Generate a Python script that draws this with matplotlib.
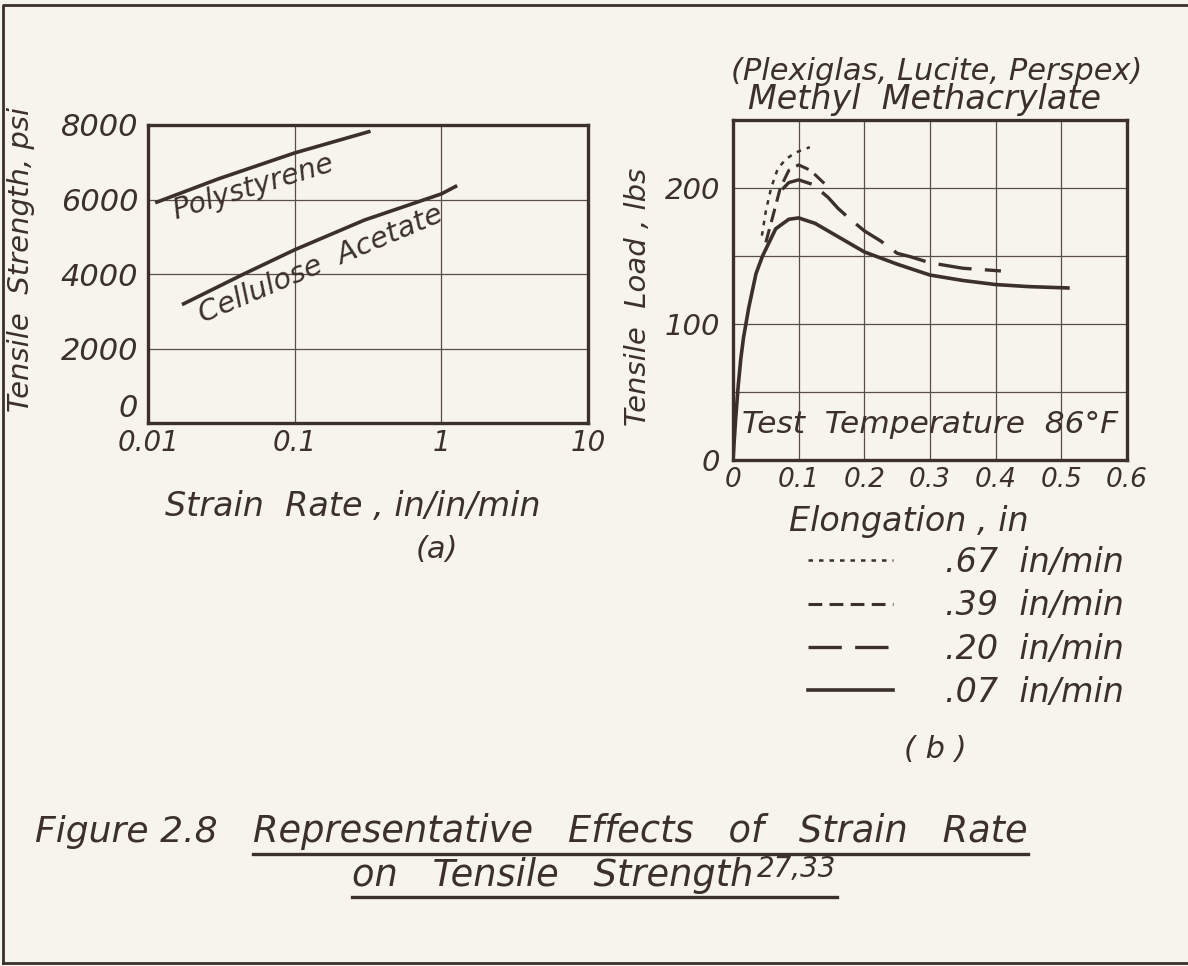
import matplotlib
matplotlib.use("Agg")
import matplotlib.pyplot as plt
from matplotlib.lines import Line2D

# (a) tensile strength vs strain rate
poly_rate = [0.0115, 0.03, 0.1, 0.32]
poly_psi = [5930, 6550, 7250, 7820]
acet_rate = [0.0175, 0.045, 0.1, 0.3, 1.0, 1.25]
acet_psi = [3200, 4000, 4650, 5450, 6150, 6350]

# (b) load vs elongation, methyl methacrylate
el_07 = [0, 0.004, 0.008, 0.012, 0.016, 0.024, 0.035, 0.045, 0.065, 0.085, 0.1,
         0.125, 0.15, 0.2, 0.25, 0.3, 0.35, 0.4, 0.45, 0.51]
load_07 = [0, 30, 55, 75, 90, 112, 137, 150, 170, 177, 178,
           174, 167, 153, 144, 136, 132, 129, 127.5, 126.5]
el_20 = [0.075, 0.085, 0.1, 0.122, 0.145, 0.16, 0.175, 0.2, 0.225, 0.25, 0.27, 0.3, 0.35, 0.408]
load_20 = [199, 204, 206, 202.5, 193, 185, 178.5, 168.5, 161, 152, 149.5, 145, 141, 139]
el_39 = [0.05, 0.06, 0.072, 0.085, 0.1, 0.118, 0.142]
load_39 = [160, 178, 200, 213, 217, 213, 202]
el_67 = [0.044, 0.05, 0.058, 0.068, 0.08, 0.092, 0.1, 0.117]
load_67 = [165, 183, 200, 214, 221, 225, 227, 230]

rate_labels = [".67  in/min", ".39  in/min", ".20  in/min", ".07  in/min"]

ink = "#3b302c"
paper = "#f7f4ec"
W, H = 1188, 966

plt.rcParams['font.family'] = ['DejaVu Sans']
plt.rcParams['font.style'] = 'oblique'
plt.rcParams['text.color'] = ink
plt.rcParams['axes.edgecolor'] = ink
plt.rcParams['xtick.color'] = ink
plt.rcParams['ytick.color'] = ink
plt.rcParams['axes.labelcolor'] = ink

fig = plt.figure(figsize=(W / 100, H / 100), dpi=100, facecolor=paper)


def box(l, t, r, b):
    return [l / W, 1 - b / H, (r - l) / W, (b - t) / H]


def style(ax):
    ax.set_facecolor(paper)
    for s in ax.spines.values():
        s.set_linewidth(2.4)
    ax.grid(True, color="#5a4e49", lw=0.9)
    ax.set_axisbelow(True)
    ax.tick_params(length=0, labelsize=20)


# ---- (a)
ax1 = fig.add_axes(box(148, 125, 588, 423))
style(ax1)
ax1.set_xscale("log")
ax1.set_xlim(0.01, 10)
ax1.set_ylim(0, 8000)
ax1.set_xticks([0.01, 0.1, 1, 10], ["0.01", "0.1", "1", "10"])
ax1.minorticks_off()
ax1.set_yticks([0, 2000, 4000, 6000, 8000], ["0", "2000", "4000", "6000", "8000"])
ax1.tick_params(axis="y", pad=7, labelsize=22)
ax1.tick_params(axis="x", pad=4)
ax1.get_yticklabels()[0].set_va("bottom")
ax1.plot(poly_rate, poly_psi, color=ink, lw=2.6)
ax1.plot(acet_rate, acet_psi, color=ink, lw=2.6)
ax1.text(0.052, 6320, "Polystyrene", rotation=17, rotation_mode="anchor",
         ha="center", va="center", fontsize=20.5)
ax1.text(0.15, 4250, "Cellulose  Acetate", rotation=23, rotation_mode="anchor",
         ha="center", va="center", fontsize=21)
ax1.set_ylabel("Tensile  Strength, psi", fontsize=21)
ax1.yaxis.set_label_coords(-0.257, 0.55)
ax1.set_xlabel("Strain  Rate , in/in/min", fontsize=24)
ax1.xaxis.set_label_coords(0.466, -0.225)
fig.text(437 / W, 1 - 550 / H, "(a)", ha="center", va="center", fontsize=22)

# ---- (b)
ax2 = fig.add_axes(box(733, 120, 1127, 460))
style(ax2)
ax2.set_xlim(0, 0.6)
ax2.set_ylim(0, 250)
ax2.set_xticks([0, 0.1, 0.2, 0.3, 0.4, 0.5, 0.6],
               ["0", "0.1", "0.2", "0.3", "0.4", "0.5", "0.6"])
ax2.set_yticks([0, 50, 100, 150, 200, 250], ["0", "", "100", "", "200", ""])
ax2.tick_params(axis="y", pad=9, labelsize=21)
ax2.tick_params(axis="x", pad=5, labelsize=19)
ax2.plot(el_67, load_67, color=ink, lw=1.8, ls=(0, (1.8, 2.4)), label=rate_labels[0])
ax2.plot(el_39, load_39, color=ink, lw=2.2, ls=(0, (4.5, 2.4)), label=rate_labels[1])
ax2.plot(el_20, load_20, color=ink, lw=2.4, ls=(0, (10, 4)), label=rate_labels[2])
ax2.plot(el_07, load_07, color=ink, lw=2.6, label=rate_labels[3])
ax2.text(0.5, 0.103, "Test  Temperature  86°F", transform=ax2.transAxes,
         ha="center", va="center", fontsize=22.5)
ax2.set_ylabel("Tensile  Load , lbs", fontsize=21)
ax2.yaxis.set_label_coords(-0.206, 0.48)
ax2.set_xlabel("Elongation , in", fontsize=24)
ax2.xaxis.set_label_coords(0.447, -0.132)
fig.text(937 / W, 1 - 72 / H, "(Plexiglas, Lucite, Perspex)", ha="center", va="center", fontsize=22)
fig.text(924 / W, 1 - 100 / H, "Methyl  Methacrylate", ha="center", va="center", fontsize=24)
ax2.legend(loc="upper left", bbox_to_anchor=(808 / W, 1 - 546 / H), bbox_transform=fig.transFigure,
           frameon=False, fontsize=24, handlelength=2.55, handletextpad=1.56,
           labelspacing=0.31, borderpad=0, borderaxespad=0)
fig.text(935 / W, 1 - 750 / H, "( b )", ha="center", va="center", fontsize=22)

# ---- caption
fig.text(35 / W, 1 - 832 / H, "Figure 2.8", ha="left", va="center", fontsize=26)
c1 = fig.text(253 / W, 1 - 832 / H, "Representative   Effects   of   Strain   Rate",
              ha="left", va="center", fontsize=26.5)
c2 = fig.text(352 / W, 1 - 875 / H, "on   Tensile   Strength", ha="left", va="center", fontsize=26.5)

fig.canvas.draw()
r = fig.canvas.get_renderer()
inv = fig.transFigure.inverted()
bb2 = c2.get_window_extent(r).transformed(inv)
sup = fig.text(bb2.x1 + 4 / W, bb2.y1 + 2 / H, "27,33", ha="left", va="top", fontsize=20)
fig.canvas.draw()
bbs = sup.get_window_extent(r).transformed(inv)
bb1 = c1.get_window_extent(r).transformed(inv)
for x0, x1, y in [(bb1.x0, bb1.x1, bb1.y0), (bb2.x0, bbs.x1, bb2.y0)]:
    fig.add_artist(Line2D([x0, x1], [y - 3 / H] * 2, transform=fig.transFigure, color=ink, lw=2.4))

# page frame
fig.add_artist(Line2D([3 / W, 3 / W, 1], [3 / H, 1 - 5 / H, 1 - 5 / H],
                      transform=fig.transFigure, color=ink, lw=2))
fig.add_artist(Line2D([3 / W, 1], [3 / H, 3 / H], transform=fig.transFigure, color=ink, lw=2))

fig.savefig("out.png", dpi=100, facecolor=paper)
